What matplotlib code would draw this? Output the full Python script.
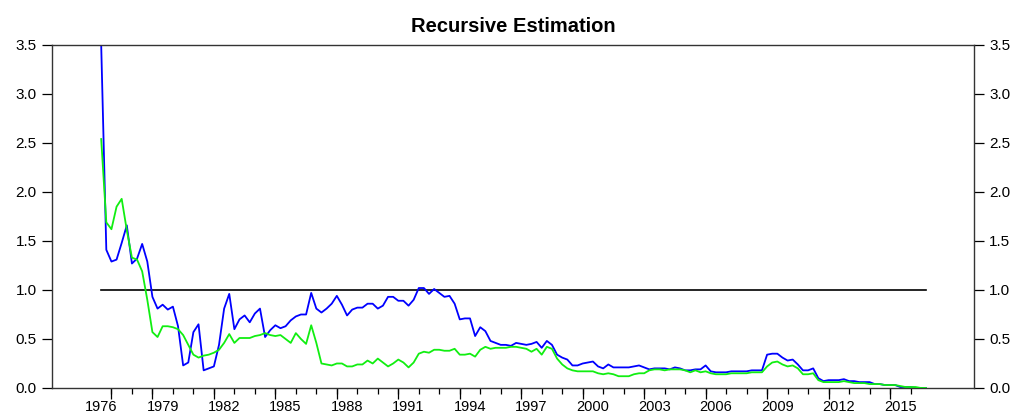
import numpy as np
import matplotlib.pyplot as plt

# quarterly series, 1976Q1 .. 2016Q2
start_year = 1976

blue_series = [
    3.50, 1.41, 1.29, 1.31, 1.48, 1.66, 1.27, 1.32, 1.47, 1.29,
    0.93, 0.81, 0.85, 0.80, 0.83, 0.63, 0.23, 0.26, 0.57, 0.65,
    0.18, 0.20, 0.22, 0.44, 0.81, 0.96, 0.60, 0.70, 0.74, 0.67,
    0.76, 0.81, 0.52, 0.59, 0.64, 0.61, 0.63, 0.69, 0.73, 0.75,
    0.75, 0.97, 0.81, 0.77, 0.81, 0.86, 0.94, 0.85, 0.74, 0.80,
    0.82, 0.82, 0.86, 0.86, 0.81, 0.84, 0.93, 0.93, 0.89, 0.89,
    0.84, 0.90, 1.02, 1.02, 0.96, 1.01, 0.97, 0.93, 0.94, 0.86,
    0.70, 0.71, 0.71, 0.53, 0.62, 0.58, 0.48, 0.46, 0.44, 0.44,
    0.43, 0.46, 0.45, 0.44, 0.45, 0.47, 0.41, 0.48, 0.44, 0.34,
    0.31, 0.29, 0.23, 0.23, 0.25, 0.26, 0.27, 0.22, 0.20, 0.24,
    0.21, 0.21, 0.21, 0.21, 0.22, 0.23, 0.21, 0.19, 0.20, 0.20,
    0.20, 0.19, 0.21, 0.20, 0.18, 0.18, 0.19, 0.19, 0.23, 0.17,
    0.16, 0.16, 0.16, 0.17, 0.17, 0.17, 0.17, 0.18, 0.18, 0.18,
    0.34, 0.35, 0.35, 0.31, 0.28, 0.29, 0.24, 0.18, 0.18, 0.20,
    0.10, 0.07, 0.08, 0.08, 0.08, 0.09, 0.07, 0.07, 0.06, 0.06,
    0.06, 0.04, 0.04, 0.03, 0.03, 0.03, 0.01, 0.01, 0.01, 0.00,
    0.00, 0.00,
]

green_series = [
    2.54, 1.69, 1.62, 1.85, 1.93, 1.61, 1.33, 1.31, 1.19, 0.90,
    0.57, 0.52, 0.63, 0.63, 0.62, 0.60, 0.54, 0.44, 0.34, 0.31,
    0.33, 0.34, 0.36, 0.39, 0.46, 0.55, 0.46, 0.51, 0.51, 0.51,
    0.53, 0.54, 0.56, 0.54, 0.53, 0.54, 0.50, 0.46, 0.56, 0.50,
    0.45, 0.64, 0.46, 0.25, 0.24, 0.23, 0.25, 0.25, 0.22, 0.22,
    0.24, 0.24, 0.28, 0.25, 0.30, 0.26, 0.22, 0.25, 0.29, 0.26,
    0.21, 0.26, 0.35, 0.37, 0.36, 0.39, 0.39, 0.38, 0.38, 0.40,
    0.34, 0.34, 0.35, 0.32, 0.39, 0.42, 0.40, 0.41, 0.41, 0.41,
    0.42, 0.42, 0.41, 0.40, 0.37, 0.40, 0.34, 0.42, 0.40, 0.30,
    0.24, 0.20, 0.18, 0.17, 0.17, 0.17, 0.17, 0.15, 0.14, 0.15,
    0.14, 0.12, 0.12, 0.12, 0.14, 0.15, 0.15, 0.18, 0.19, 0.19,
    0.18, 0.19, 0.19, 0.19, 0.18, 0.16, 0.18, 0.16, 0.17, 0.15,
    0.14, 0.14, 0.14, 0.15, 0.15, 0.15, 0.15, 0.16, 0.16, 0.16,
    0.22, 0.26, 0.27, 0.24, 0.22, 0.23, 0.20, 0.14, 0.14, 0.15,
    0.08, 0.06, 0.06, 0.06, 0.06, 0.07, 0.06, 0.05, 0.05, 0.05,
    0.04, 0.04, 0.04, 0.03, 0.03, 0.03, 0.02, 0.01, 0.01, 0.01,
    0.00, 0.00,
]

ref_level = 1.0
label_years = list(range(1976, 2016, 3))
y_ticks = [0.0, 0.5, 1.0, 1.5, 2.0, 2.5, 3.0, 3.5]

n = len(blue_series)
t = start_year + np.arange(n) / 4.0

plt.rcParams['font.family'] = ['Liberation Sans', 'DejaVu Sans']

fig = plt.figure(figsize=(10.16, 4.15), dpi=100)
ax = fig.add_axes([0.0512, 0.0651, 0.9075, 0.8265])

ax.plot(t, np.full(n, ref_level), color='black', linewidth=1.2, zorder=1)
ax.plot(t, blue_series, color='#0000ff', linewidth=1.3, zorder=2)
ax.plot(t, green_series, color='#11ee11', linewidth=1.3, zorder=3)

ax.set_xlim(1973.6, 2018.6)
ax.set_ylim(0, 3.5)

# labels at the year, tick marks in between
ax.set_xticks(label_years)
ax.set_xticklabels([str(y) for y in label_years])
ax.tick_params(axis='x', which='major', length=0, pad=9, labelsize=10.5)
ax.set_xticks(np.arange(1976.5, 2016, 1.0), minor=True)
ax.tick_params(axis='x', which='minor', length=4, width=0.9, direction='out')

sec = ax.secondary_xaxis('bottom')
sec.set_xticks([y - 0.5 for y in label_years[1:]] + [1976.5])
sec.tick_params(length=8, width=0.9, labelbottom=False)
sec.spines['bottom'].set_visible(False)

ax.set_yticks(y_ticks)
ax.set_yticklabels([f"{v:.1f}" for v in y_ticks])
ax.tick_params(axis='y', which='both', length=7, width=0.9, labelsize=11,
               left=True, right=True, labelleft=True, labelright=True, pad=4)

for s in ax.spines.values():
    s.set_color('#333333')
    s.set_linewidth(1.0)

ax.set_title('Recursive Estimation', fontsize=14.5, fontweight='bold', pad=9)

fig.savefig('out.png', dpi=100)
